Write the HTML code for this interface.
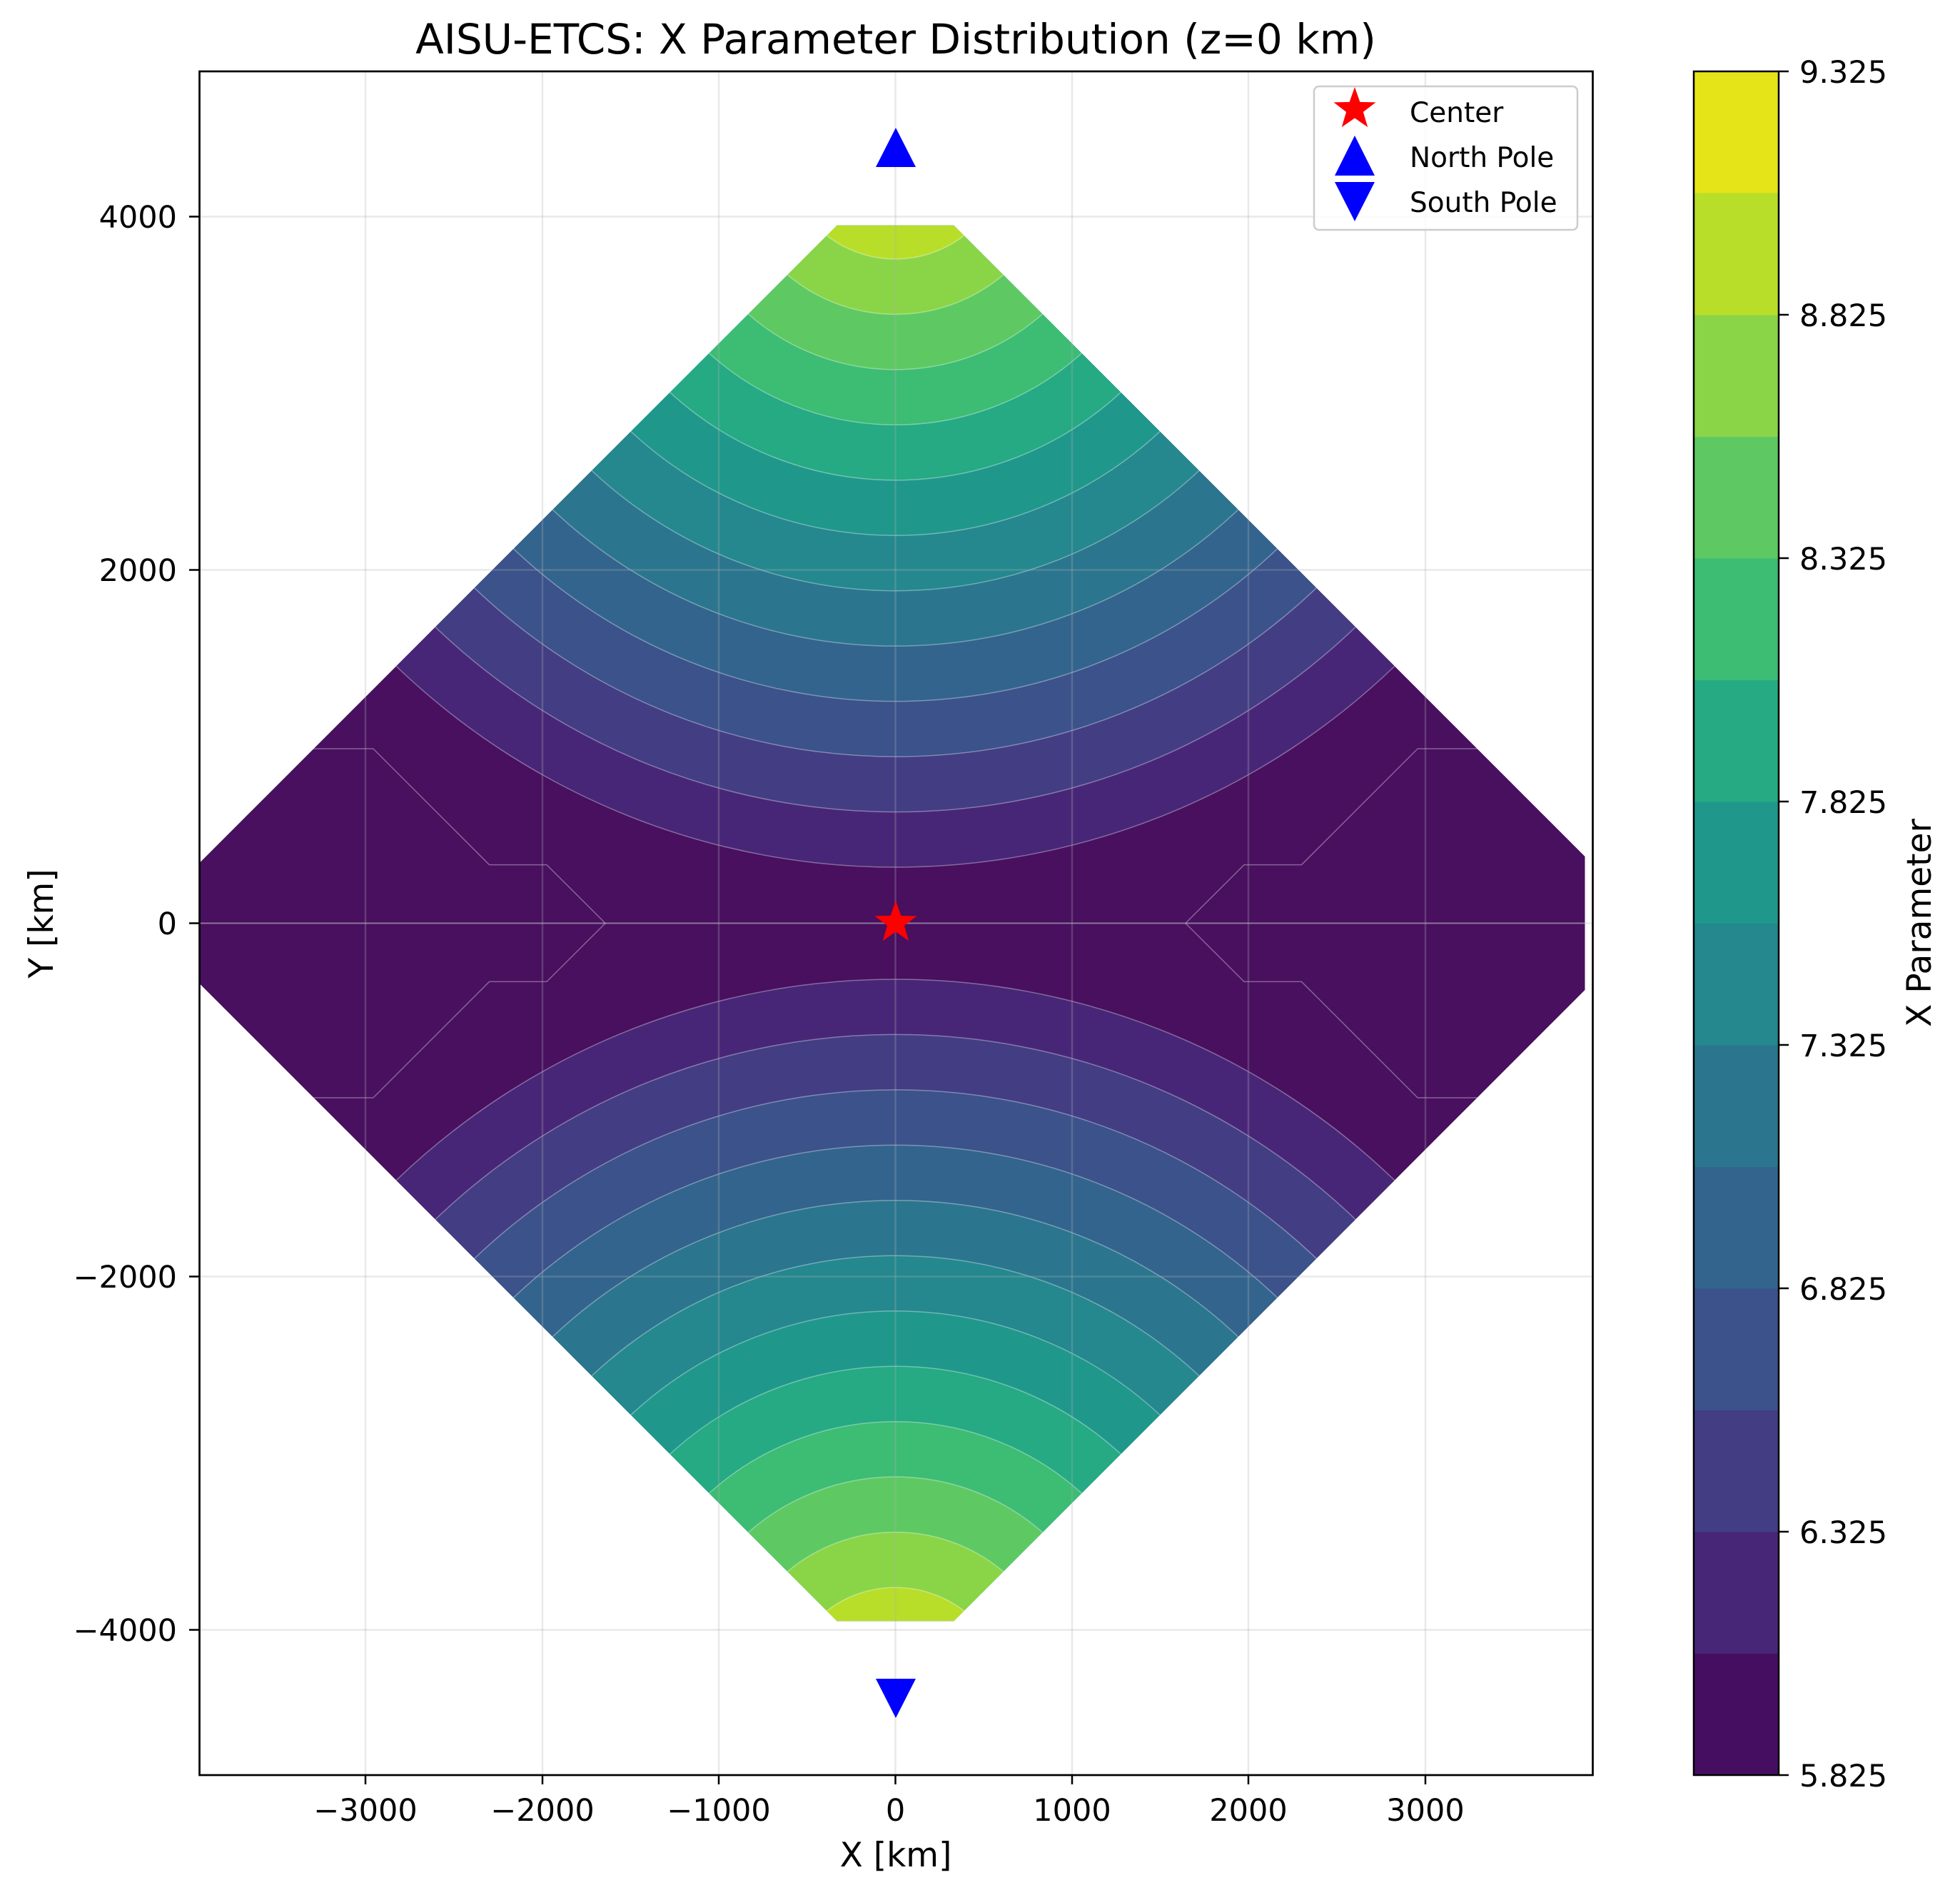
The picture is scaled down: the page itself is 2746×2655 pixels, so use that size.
<!DOCTYPE html>
<html><head><meta charset="utf-8"><style>html,body{margin:0;padding:0;background:#fff;overflow:hidden;width:2746px;height:2655px}svg{display:block}</style></head>
<body>
<svg width="2746" height="2655" viewBox="0 0 2746 2655" xmlns="http://www.w3.org/2000/svg" font-family="'DejaVu Sans','Liberation Sans',sans-serif">
<defs>
<clipPath id="ax" clipPathUnits="userSpaceOnUse"><rect x="-3941" y="-4840" width="7844" height="9680"/></clipPath>
<clipPath id="dia" clipPathUnits="userSpaceOnUse"><polygon points="-331,3950 331,3950 4281,0 331,-3950 -331,-3950 -4281,0"/></clipPath>
<clipPath id="north" clipPathUnits="userSpaceOnUse"><rect x="-5000" y="0" width="10000" height="5000"/></clipPath>
<clipPath id="south" clipPathUnits="userSpaceOnUse"><rect x="-5000" y="-5000" width="10000" height="5000"/></clipPath>
<g id="circ" stroke="#ffffff" stroke-opacity="0.35" stroke-width="1.5" vector-effect="non-scaling-stroke">
<circle r="4077" fill="#482677" vector-effect="non-scaling-stroke"/>
<circle r="3764" fill="#433d84" vector-effect="non-scaling-stroke"/>
<circle r="3451" fill="#3b528b" vector-effect="non-scaling-stroke"/>
<circle r="3138" fill="#33648d" vector-effect="non-scaling-stroke"/>
<circle r="2825" fill="#2b768e" vector-effect="non-scaling-stroke"/>
<circle r="2512" fill="#24888e" vector-effect="non-scaling-stroke"/>
<circle r="2199" fill="#1f988b" vector-effect="non-scaling-stroke"/>
<circle r="1886" fill="#25aa83" vector-effect="non-scaling-stroke"/>
<circle r="1573" fill="#3dbc74" vector-effect="non-scaling-stroke"/>
<circle r="1260" fill="#5ec962" vector-effect="non-scaling-stroke"/>
<circle r="947" fill="#8ad547" vector-effect="non-scaling-stroke"/>
<circle r="634" fill="#b8de29" vector-effect="non-scaling-stroke"/>
</g>
</defs>

<text x="1255" y="75" font-size="58" text-anchor="middle">AISU-ETCS: X Parameter Distribution (z=0 km)</text>

<g transform="translate(1254.5,1293.5) scale(0.2475,-0.2475)">
 <g clip-path="url(#ax)">
  <g clip-path="url(#dia)">
   <rect x="-5000" y="-5000" width="10000" height="10000" fill="#48105f"/>
   <g clip-path="url(#north)"><use href="#circ" transform="translate(0,4394)"/></g>
   <g clip-path="url(#south)"><use href="#circ" transform="translate(0,-4394)"/></g>
   <g fill="none" stroke="#ffffff" stroke-opacity="0.35" stroke-width="1.5">
    <polyline vector-effect="non-scaling-stroke" points="-3300,988 -2956,988 -2299,331 -1974,331 -1642,0 1642,0 1974,331 2299,331 2956,988 3300,988"/>
    <polyline vector-effect="non-scaling-stroke" points="-3300,-988 -2956,-988 -2299,-331 -1974,-331 -1642,0"/>
    <polyline vector-effect="non-scaling-stroke" points="3300,-988 2956,-988 2299,-331 1974,-331 1642,0"/>
    <line vector-effect="non-scaling-stroke" x1="-4300" y1="0" x2="-1642" y2="0"/>
    <line vector-effect="non-scaling-stroke" x1="1642" y1="0" x2="4300" y2="0"/>
   </g>
  </g>
 </g>
</g>

<g stroke="#b0b0b0" stroke-opacity="0.28" stroke-width="2.5">
 <line x1="512" y1="100" x2="512" y2="2487"/>
 <line x1="760" y1="100" x2="760" y2="2487"/>
 <line x1="1007" y1="100" x2="1007" y2="2487"/>
 <line x1="1254.5" y1="100" x2="1254.5" y2="2487"/>
 <line x1="1502" y1="100" x2="1502" y2="2487"/>
 <line x1="1749" y1="100" x2="1749" y2="2487"/>
 <line x1="1997" y1="100" x2="1997" y2="2487"/>
 <line x1="279" y1="303.5" x2="2232" y2="303.5"/>
 <line x1="279" y1="798.5" x2="2232" y2="798.5"/>
 <line x1="279" y1="1293.5" x2="2232" y2="1293.5"/>
 <line x1="279" y1="1788.5" x2="2232" y2="1788.5"/>
 <line x1="279" y1="2283.5" x2="2232" y2="2283.5"/>
</g>

<path transform="translate(1255,1293)" fill="#ff0000" d="M0,-31 L7.35,-10.1 L29.5,-9.6 L11.9,3.9 L18.2,25.1 L0,12.5 L-18.2,25.1 L-11.9,3.9 L-29.5,-9.6 L-7.35,-10.1 Z"/>
<polygon fill="#0000ff" points="1255,179 1283,234 1227,234"/>
<polygon fill="#0000ff" points="1255,2407 1283,2352 1227,2352"/>

<rect x="279.5" y="100" width="1952" height="2387" fill="none" stroke="#000" stroke-width="2.7"/>

<g stroke="#000" stroke-width="2.5">
 <line x1="512" y1="2487" x2="512" y2="2500"/>
 <line x1="760" y1="2487" x2="760" y2="2500"/>
 <line x1="1007" y1="2487" x2="1007" y2="2500"/>
 <line x1="1254.5" y1="2487" x2="1254.5" y2="2500"/>
 <line x1="1502" y1="2487" x2="1502" y2="2500"/>
 <line x1="1749" y1="2487" x2="1749" y2="2500"/>
 <line x1="1997" y1="2487" x2="1997" y2="2500"/>
 <line x1="265" y1="303.5" x2="279" y2="303.5"/>
 <line x1="265" y1="798.5" x2="279" y2="798.5"/>
 <line x1="265" y1="1293.5" x2="279" y2="1293.5"/>
 <line x1="265" y1="1788.5" x2="279" y2="1788.5"/>
 <line x1="265" y1="2283.5" x2="279" y2="2283.5"/>
</g>
<g font-size="43" text-anchor="middle">
 <text x="512" y="2551">−3000</text>
 <text x="760" y="2551">−2000</text>
 <text x="1007" y="2551">−1000</text>
 <text x="1254.5" y="2551">0</text>
 <text x="1502" y="2551">1000</text>
 <text x="1749" y="2551">2000</text>
 <text x="1997" y="2551">3000</text>
</g>
<g font-size="43" text-anchor="end">
 <text x="248" y="319">4000</text>
 <text x="248" y="814">2000</text>
 <text x="248" y="1309">0</text>
 <text x="248" y="1804">−2000</text>
 <text x="248" y="2299">−4000</text>
</g>
<text x="1255" y="2615" font-size="47" text-anchor="middle">X [km]</text>
<text transform="translate(74,1294) rotate(-90)" font-size="47" text-anchor="middle">Y [km]</text>

<rect x="1841" y="121" width="369" height="201" rx="7" fill="#fff" fill-opacity="0.8" stroke="#cccccc" stroke-width="2.5"/>
<path transform="translate(1898,153)" fill="#ff0000" d="M0,-31 L7.35,-10.1 L29.5,-9.6 L11.9,3.9 L18.2,25.1 L0,12.5 L-18.2,25.1 L-11.9,3.9 L-29.5,-9.6 L-7.35,-10.1 Z"/>
<polygon fill="#0000ff" points="1898,190 1926,246 1870,246"/>
<polygon fill="#0000ff" points="1898,310 1926,255 1870,255"/>
<g font-size="39">
 <text x="1975" y="171">Center</text>
 <text x="1975" y="234">North Pole</text>
 <text x="1975" y="297">South Pole</text>
</g>

<g>
 <rect x="2373" y="2316.5" width="119" height="171" fill="#460e60"/>
 <rect x="2373" y="2146" width="119" height="171" fill="#482677"/>
 <rect x="2373" y="1975.5" width="119" height="171" fill="#433d84"/>
 <rect x="2373" y="1805" width="119" height="171" fill="#3b528b"/>
 <rect x="2373" y="1634.5" width="119" height="171" fill="#33648d"/>
 <rect x="2373" y="1464" width="119" height="171" fill="#2b768e"/>
 <rect x="2373" y="1293.5" width="119" height="171" fill="#24888e"/>
 <rect x="2373" y="1123" width="119" height="171" fill="#1f988b"/>
 <rect x="2373" y="952.5" width="119" height="171" fill="#25aa83"/>
 <rect x="2373" y="782" width="119" height="171" fill="#3dbc74"/>
 <rect x="2373" y="611.5" width="119" height="171" fill="#5ec962"/>
 <rect x="2373" y="441" width="119" height="171" fill="#8ad547"/>
 <rect x="2373" y="270.5" width="119" height="171" fill="#b8de29"/>
 <rect x="2373" y="100" width="119" height="170.5" fill="#e5e419"/>
</g>
<rect x="2373" y="100" width="119" height="2387" fill="none" stroke="#000" stroke-width="2.5"/>
<g stroke="#000" stroke-width="2.5">
 <line x1="2492" y1="2487" x2="2506" y2="2487"/>
 <line x1="2492" y1="2146" x2="2506" y2="2146"/>
 <line x1="2492" y1="1805" x2="2506" y2="1805"/>
 <line x1="2492" y1="1464" x2="2506" y2="1464"/>
 <line x1="2492" y1="1123" x2="2506" y2="1123"/>
 <line x1="2492" y1="782" x2="2506" y2="782"/>
 <line x1="2492" y1="441" x2="2506" y2="441"/>
 <line x1="2492" y1="100" x2="2506" y2="100"/>
</g>
<g font-size="43">
 <text x="2521" y="2503">5.825</text>
 <text x="2521" y="2162">6.325</text>
 <text x="2521" y="1821">6.825</text>
 <text x="2521" y="1480">7.325</text>
 <text x="2521" y="1139">7.825</text>
 <text x="2521" y="798">8.325</text>
 <text x="2521" y="457">8.825</text>
 <text x="2521" y="116">9.325</text>
</g>
<text transform="translate(2705,1293) rotate(-90)" font-size="47" text-anchor="middle">X Parameter</text>
</svg>
</body></html>
